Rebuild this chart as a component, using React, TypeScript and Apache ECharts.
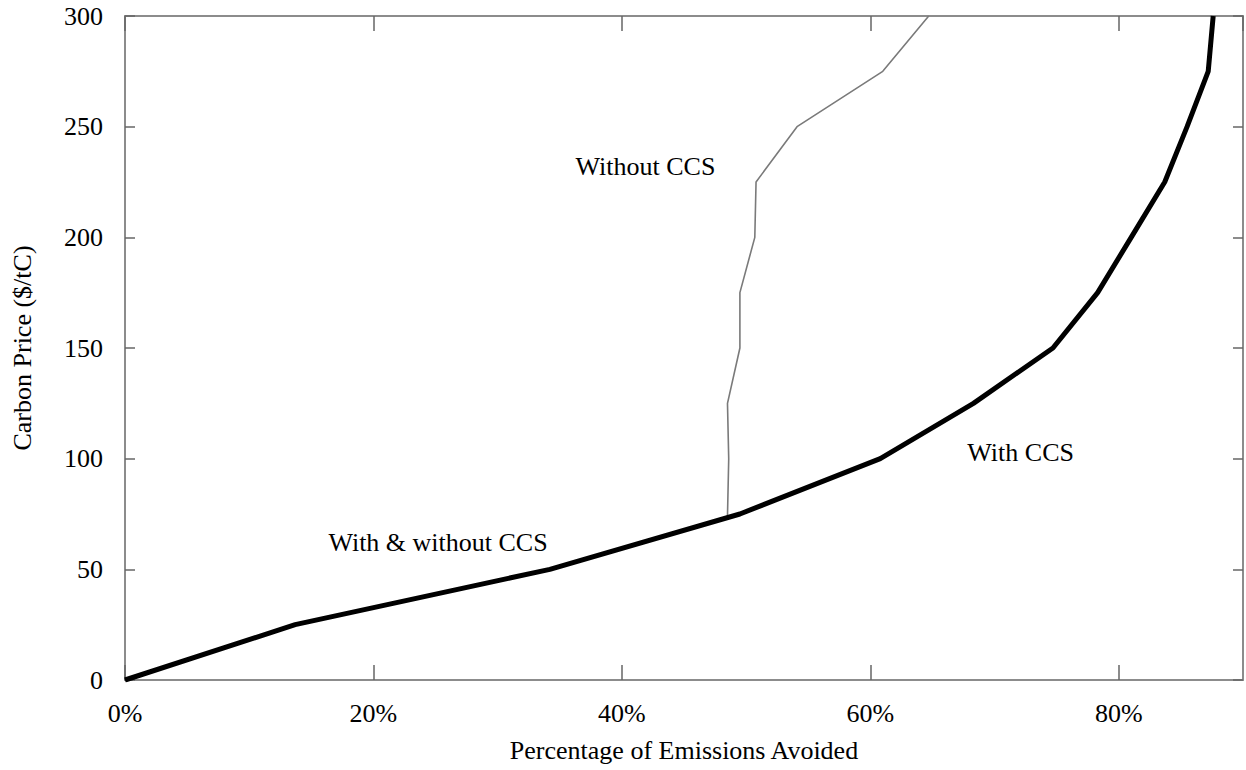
import React, { useEffect, useRef } from "react";
import * as echarts from "echarts";

// Carbon price levels ($/tC)
const withCcsPrice = [0, 25, 50, 75, 100, 125, 150, 175, 200, 225, 250, 275, 300];
// Percentage of emissions avoided, with CCS
const withCcsPct = [0, 13.7, 34.2, 49.5, 60.8, 68.3, 74.7, 78.3, 81.0, 83.7, 85.5, 87.2, 87.6];

const withoutCcsPrice = [74, 100, 125, 150, 175, 200, 225, 250, 275, 300];
const withoutCcsPct = [48.5, 48.6, 48.5, 49.5, 49.5, 50.7, 50.8, 54.1, 61.0, 64.7];

const annotationText = ["Without CCS", "With CCS", "With & without CCS"];
const annotationPct = [41.9, 72.1, 25.2];
const annotationPrice = [232, 102.6, 62];

const xTicks = [0, 20, 40, 60, 80];
const yTicks = [0, 50, 100, 150, 200, 250, 300];

const FONT = "'Liberation Serif', 'Times New Roman', serif";

export default function App() {
  const ref = useRef<HTMLDivElement>(null);

  useEffect(() => {
    if (!ref.current) return;
    const chart = echarts.init(ref.current, undefined, { renderer: "svg" });

    const lineColor = "#8c8c8c";
    const tickColor = "#666";

    const withData = withCcsPct.map((x, i) => [x, withCcsPrice[i]]);
    const withoutData = withoutCcsPct.map((x, i) => [x, withoutCcsPrice[i]]);
    const annData = annotationText.map((t, i) => ({
      value: [annotationPct[i], annotationPrice[i]],
      name: t,
    }));

    const xCommon = {
      type: "value" as const,
      min: xTicks[0],
      max: 90,
      interval: xTicks[1] - xTicks[0],
      splitLine: { show: false },
      axisLine: { show: true, onZero: false, lineStyle: { color: lineColor, width: 2 } },
      axisTick: { show: true, inside: true, length: 15, lineStyle: { color: tickColor, width: 1.5 } },
    };
    const yCommon = {
      type: "value" as const,
      min: yTicks[0],
      max: yTicks[yTicks.length - 1],
      interval: yTicks[1] - yTicks[0],
      splitLine: { show: false },
      axisLine: { show: true, onZero: false, lineStyle: { color: lineColor, width: 2 } },
      axisTick: { show: true, inside: true, length: 10, lineStyle: { color: tickColor, width: 1.5 } },
    };

    chart.setOption({
      animation: false,
      backgroundColor: "#ffffff",
      textStyle: { fontFamily: FONT },
      grid: { left: 125, right: 3, top: 16, bottom: 90, containLabel: false },
      xAxis: [
        {
          ...xCommon,
          position: "bottom",
          name: "Percentage of Emissions Avoided",
          nameLocation: "middle",
          nameGap: 57,
          nameTextStyle: { fontFamily: FONT, fontSize: 26, color: "#000" },
          axisLabel: {
            show: true,
            margin: 20,
            formatter: "{value}%",
            showMaxLabel: false,
            fontFamily: FONT,
            fontSize: 26,
            color: "#000",
          },
        },
        {
          ...xCommon,
          position: "top",
          axisLabel: { show: false },
        },
      ],
      yAxis: [
        {
          ...yCommon,
          position: "left",
          name: "Carbon Price ($/tC)",
          nameLocation: "middle",
          nameGap: 90,
          nameTextStyle: { fontFamily: FONT, fontSize: 26, color: "#000" },
          axisLabel: {
            show: true,
            margin: 22,
            fontFamily: FONT,
            fontSize: 26,
            color: "#000",
          },
        },
        {
          ...yCommon,
          position: "right",
          axisLabel: { show: false },
        },
      ],
      series: [
        {
          name: "Without CCS",
          type: "line",
          xAxisIndex: 0,
          yAxisIndex: 0,
          data: withoutData,
          showSymbol: false,
          symbol: "none",
          lineStyle: { color: "#7a7a7a", width: 1.6 },
          z: 2,
        },
        {
          name: "With CCS",
          type: "line",
          xAxisIndex: 0,
          yAxisIndex: 0,
          data: withData,
          showSymbol: false,
          symbol: "none",
          lineStyle: { color: "#000", width: 5 },
          z: 3,
        },
        {
          name: "Annotations",
          type: "scatter",
          xAxisIndex: 0,
          yAxisIndex: 0,
          data: annData,
          symbolSize: 1,
          itemStyle: { color: "rgba(0,0,0,0)", opacity: 1 },
          silent: true,
          label: {
            show: true,
            position: "inside",
            formatter: (p: any) => p.name,
            fontFamily: FONT,
            fontSize: 26,
            color: "#000",
            opacity: 1,
            align: "center",
            verticalAlign: "middle",
          },
          z: 4,
        },
      ],
    });

    return () => {
      chart.dispose();
    };
  }, []);

  return (
    <div
      ref={ref}
      style={{ position: "fixed", left: 0, top: 0, width: 1246, height: 770, background: "#fff" }}
    />
  );
}
